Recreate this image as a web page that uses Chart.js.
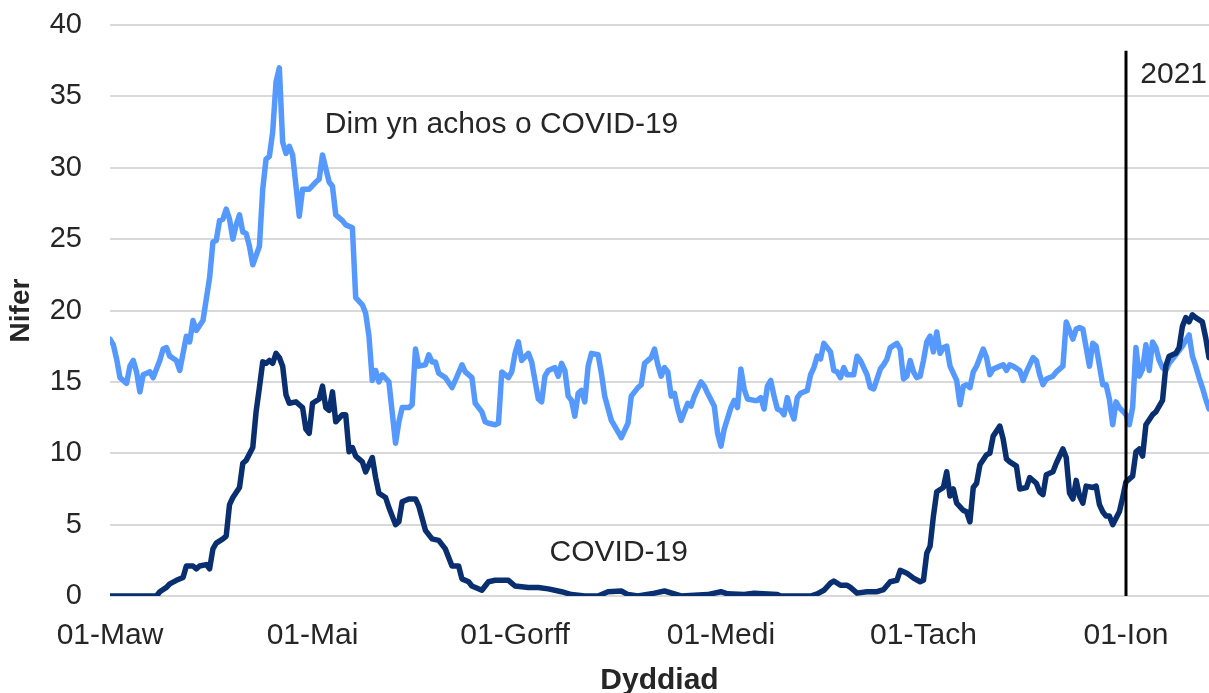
<!DOCTYPE html>
<html>
<head>
<meta charset="utf-8">
<script src="https://cdn.jsdelivr.net/npm/chart.js@4.4.1/dist/chart.umd.min.js"></script>
<style>
  html, body { margin: 0; padding: 0; background: #fff; }
  #wrap { width: 1209px; height: 693px; }
</style>
</head>
<body>
<div id="wrap"><canvas id="chart" width="1209" height="693"></canvas></div>
<script>
// [day since 01-Maw 2020, count]
const covidPoints = [
  [0, 0], [14, 0], [15, 0.3], [17, 0.6], [18, 0.85], [20, 1.1], [22, 1.3], [23, 2.1], [25, 2.1], [26, 1.9],
  [27, 2.1], [29, 2.2], [30, 1.9], [31, 3.3], [32, 3.7], [34, 4.0], [35, 4.2], [36, 6.4], [37, 6.9], [39, 7.6],
  [40, 9.3], [41, 9.5], [43, 10.4], [44, 12.9], [45, 14.6], [46, 16.4], [47, 16.3], [48, 16.5], [49, 16.3], [50, 17.0],
  [51, 16.7], [52, 16.1], [53, 14.1], [54, 13.5], [56, 13.6], [57, 13.4], [58, 13.2], [59, 11.7], [60, 11.4], [61, 13.5],
  [63, 13.8], [64, 14.7], [65, 13.2], [66, 13.0], [67, 14.3], [68, 12.2], [70, 12.7], [71, 12.7], [72, 10.1], [73, 10.4],
  [74, 9.8], [76, 9.4], [77, 8.7], [79, 9.7], [80, 8.3], [81, 7.2], [83, 6.9], [84, 6.2], [86, 5.0], [87, 5.2],
  [88, 6.6], [90, 6.8], [92, 6.8], [93, 6.3], [95, 4.6], [97, 4.0], [99, 3.9], [101, 3.3], [103, 2.1], [105, 2.1],
  [106, 1.2], [108, 1.0], [109, 0.7], [112, 0.4], [114, 1.0], [116, 1.1], [120, 1.1], [122, 0.7], [126, 0.6], [129, 0.6],
  [132, 0.5], [136, 0.3], [139, 0.1], [143, 0], [147, 0], [150, 0.3], [154, 0.35], [156, 0.1], [159, 0], [164, 0.2],
  [167, 0.35], [172, 0], [180, 0.1], [184, 0.3], [186, 0.15], [191, 0.1], [194, 0.2], [201, 0.1], [202, 0], [211, 0],
  [213, 0.15], [215, 0.4], [217, 0.9], [218, 1.05], [220, 0.75], [222, 0.75], [223, 0.6], [225, 0.2], [228, 0.3], [231, 0.3],
  [233, 0.45], [235, 1.0], [237, 1.1], [238, 1.8], [239, 1.7], [240, 1.6], [242, 1.25], [244, 1.0], [245, 1.1], [246, 3.0],
  [247, 3.5], [248, 5.6], [249, 7.3], [251, 7.6], [252, 8.7], [253, 7.0], [254, 7.5], [255, 6.5], [257, 6.0], [258, 5.9],
  [259, 5.2], [260, 7.6], [261, 7.9], [262, 9.2], [264, 9.9], [265, 10.0], [266, 11.2], [268, 11.9], [269, 11.0], [270, 9.6],
  [271, 9.4], [273, 9.1], [274, 7.5], [276, 7.6], [277, 8.3], [279, 7.9], [280, 7.3], [281, 7.1], [282, 8.5], [284, 8.7],
  [285, 9.3], [287, 10.3], [288, 9.7], [289, 7.2], [290, 6.8], [291, 8.1], [292, 7.0], [293, 6.5], [294, 7.7], [296, 7.6],
  [297, 7.7], [298, 6.4], [299, 5.9], [300, 5.6], [301, 5.6], [302, 5.0], [304, 5.9], [305, 6.9], [306, 8.0], [308, 8.4],
  [309, 10.1], [310, 10.3], [311, 9.8], [312, 12.0], [314, 12.7], [315, 12.9], [317, 13.7], [318, 16.1], [319, 16.8], [321, 17.0],
  [322, 17.4], [323, 18.9], [324, 19.5], [325, 19.2], [326, 19.7], [327, 19.5], [329, 19.2], [330, 18.1], [331, 16.7],
]

const notCovidPoints = [
  [0, 18.0], [1, 17.6], [2, 16.6], [3, 15.3], [5, 14.9], [6, 16.1], [7, 16.5], [8, 15.7], [9, 14.3], [10, 15.5],
  [12, 15.7], [13, 15.3], [15, 16.5], [16, 17.3], [17, 17.4], [18, 16.8], [20, 16.5], [21, 15.8], [23, 18.2], [24, 17.8],
  [25, 19.3], [26, 18.6], [28, 19.3], [30, 22.3], [31, 24.8], [32, 24.9], [33, 26.3], [34, 26.4], [35, 27.1], [36, 26.4],
  [37, 25.0], [38, 26.0], [39, 26.7], [40, 25.5], [41, 25.4], [42, 24.5], [43, 23.2], [45, 24.5], [46, 28.5], [47, 30.6],
  [48, 30.8], [49, 32.5], [50, 36.0], [51, 37.0], [52, 31.8], [53, 31.0], [54, 31.5], [55, 30.9], [57, 26.6], [58, 28.5],
  [60, 28.5], [62, 29.0], [63, 29.2], [64, 30.9], [66, 29.0], [67, 28.7], [68, 26.7], [70, 26.3], [71, 26.0], [73, 25.8],
  [74, 20.9], [76, 20.4], [77, 19.8], [78, 18.2], [79, 15.1], [80, 15.8], [81, 15.0], [82, 15.5], [84, 15.0], [86, 10.7],
  [87, 12.2], [88, 13.2], [90, 13.2], [91, 13.4], [92, 17.3], [93, 16.1], [95, 16.2], [96, 16.9], [97, 16.4], [98, 16.4],
  [99, 15.6], [101, 15.3], [103, 14.6], [104, 15.1], [106, 16.2], [107, 15.7], [109, 15.3], [110, 13.5], [112, 12.9], [113, 12.2],
  [114, 12.1], [116, 12.0], [117, 12.1], [118, 15.7], [120, 15.3], [121, 15.7], [122, 17.0], [123, 17.8], [124, 16.5], [126, 17.0],
  [127, 16.4], [128, 15.1], [129, 13.8], [130, 13.6], [131, 15.4], [132, 15.8], [134, 16.0], [135, 15.4], [136, 16.3], [137, 15.8],
  [138, 14.0], [139, 13.7], [140, 12.6], [141, 14.2], [142, 14.4], [143, 13.6], [144, 16.1], [145, 17.0], [147, 16.9], [148, 15.6],
  [149, 14.0], [151, 12.3], [153, 11.5], [154, 11.1], [156, 12.1], [157, 14.0], [159, 14.6], [160, 14.8], [161, 16.3], [163, 16.7],
  [164, 17.3], [165, 16.2], [166, 15.4], [167, 16.0], [168, 15.7], [169, 14.0], [170, 14.2], [171, 13.1], [172, 12.3], [174, 13.5],
  [175, 13.3], [176, 14.0], [178, 15.0], [179, 14.7], [180, 14.2], [182, 13.3], [183, 11.4], [184, 10.5], [185, 11.7], [187, 13.2],
  [188, 13.7], [189, 13.2], [190, 15.9], [191, 14.5], [192, 13.8], [194, 13.7], [195, 13.7], [196, 13.9], [197, 13.1], [198, 14.7],
  [199, 15.1], [200, 14.0], [201, 13.1], [202, 13.0], [203, 12.7], [204, 13.9], [205, 13.0], [206, 12.4], [207, 13.9], [208, 14.2],
  [210, 14.4], [211, 15.5], [212, 16.0], [213, 16.8], [214, 16.6], [215, 17.7], [217, 17.1], [218, 15.8], [219, 15.7], [220, 15.3],
  [221, 16.0], [222, 15.5], [224, 15.5], [225, 16.8], [226, 16.5], [228, 15.5], [229, 14.6], [230, 14.5], [232, 15.9], [233, 16.2],
  [234, 16.6], [235, 17.4], [237, 17.7], [238, 17.3], [239, 15.2], [240, 15.4], [241, 16.5], [242, 15.7], [243, 15.3], [244, 15.4],
  [245, 16.5], [246, 17.8], [247, 18.2], [248, 17.1], [249, 18.5], [250, 17.0], [251, 17.4], [252, 17.5], [253, 16.1], [255, 15.1],
  [256, 13.4], [257, 14.7], [258, 14.8], [259, 14.6], [260, 15.7], [261, 16.1], [263, 17.3], [264, 16.7], [265, 15.5], [266, 15.9],
  [267, 16.0], [269, 16.2], [270, 15.8], [271, 16.2], [272, 16.1], [274, 15.8], [275, 15.1], [276, 15.7], [278, 16.7], [279, 16.5],
  [280, 15.5], [281, 14.8], [282, 15.2], [284, 15.4], [285, 15.7], [287, 16.1], [288, 19.2], [289, 18.6], [290, 18.0], [291, 18.7],
  [292, 18.8], [293, 18.7], [295, 16.1], [296, 17.7], [297, 17.5], [299, 14.8], [300, 14.8], [301, 13.8], [302, 12.0], [303, 13.6],
  [304, 13.2], [306, 12.7], [307, 12.0], [308, 13.2], [309, 17.4], [310, 15.4], [311, 15.9], [312, 17.6], [313, 15.8], [314, 17.8],
  [315, 17.4], [316, 16.5], [317, 16.0], [318, 15.8], [319, 16.3], [320, 16.6], [322, 17.2], [323, 17.5], [325, 18.3], [326, 16.8],
  [327, 16.1], [328, 15.3], [329, 14.6], [330, 13.8], [331, 13.1],
]

const tickDays = [0, 61, 122, 184, 245, 306]
const tickLabels = ["01-Maw", "01-Mai", "01-Gorff", "01-Medi", "01-Tach", "01-Ion"]
const lastDay = 331
const yearStartDay = 306

const FONT = "'Liberation Sans', Arial, sans-serif"
const TEXT = "#262626"

function toXY(points) {
  return points.map(([day, value]) => ({ x: day, y: value }))
}

// Vertical year marker and the in-chart labels
const annotations = {
  id: "annotations",
  afterDatasetsDraw(chart, args, opts) {
    const { ctx } = chart
    const x = chart.scales.x
    const y = chart.scales.y
    ctx.save()

    const lx = x.getPixelForValue(opts.line.day)
    ctx.strokeStyle = "#000000"
    ctx.lineWidth = 3
    ctx.beginPath()
    ctx.moveTo(lx, y.getPixelForValue(0))
    ctx.lineTo(lx, y.getPixelForValue(opts.line.top))
    ctx.stroke()

    ctx.fillStyle = TEXT
    ctx.font = "30px " + FONT
    ctx.textAlign = "left"
    ctx.textBaseline = "middle"
    opts.labels.forEach((l) => {
      ctx.fillText(l.text, x.getPixelForValue(l.day), y.getPixelForValue(l.value))
    })
    ctx.restore()
  },
}

new Chart(document.getElementById("chart"), {
  type: "line",
  data: {
    datasets: [
      {
        label: "COVID-19",
        data: toXY(covidPoints),
        borderColor: "#0a2f70",
        borderWidth: 5.5,
        borderJoinStyle: "round",
        borderCapStyle: "round",
        pointRadius: 0,
        tension: 0,
      },
      {
        label: "Dim yn achos o COVID-19",
        data: toXY(notCovidPoints),
        borderColor: "#5599ff",
        borderWidth: 5.5,
        borderJoinStyle: "round",
        borderCapStyle: "round",
        pointRadius: 0,
        tension: 0,
      },
    ],
  },
  options: {
    responsive: false,
    animation: false,
    layout: { padding: { top: 25, right: 0, left: 0, bottom: 0 } },
    plugins: {
      legend: { display: false },
      tooltip: { enabled: false },
      annotations: {
        line: { day: yearStartDay, top: 38.2 },
        labels: [
          { text: "Dim yn achos o COVID-19", day: 64.7, value: 33.0 },
          { text: "COVID-19", day: 132.4, value: 3.0 },
          { text: "2021", day: 310.3, value: 36.5 },
        ],
      },
    },
    scales: {
      x: {
        type: "linear",
        min: 0,
        max: lastDay,
        afterBuildTicks: (scale) => {
          scale.ticks = tickDays.map((d) => ({ value: d }))
        },
        afterFit: (scale) => {
          scale.height = 97
        },
        ticks: {
          callback: (value) => tickLabels[tickDays.indexOf(value)],
          autoSkip: false,
          maxRotation: 0,
          padding: 14,
          color: TEXT,
          font: { family: FONT, size: 30 },
        },
        grid: { display: false },
        border: { display: false },
        title: {
          display: true,
          text: "Dyddiad",
          color: TEXT,
          font: { family: FONT, size: 30, weight: "bold" },
          padding: { top: -6, bottom: -6 },
        },
      },
      y: {
        min: 0,
        max: 40,
        afterFit: (scale) => {
          scale.width = 110
        },
        ticks: {
          stepSize: 5,
          padding: 0,
          color: TEXT,
          font: { family: FONT, size: 29 },
        },
        // invisible tick marks keep the labels clear of the plot
        grid: { color: "#d9d9d9", lineWidth: 2, drawTicks: true, tickLength: 28, tickColor: "rgba(0,0,0,0)" },
        border: { display: false },
        title: {
          display: true,
          text: "Nifer",
          color: TEXT,
          font: { family: FONT, size: 28, weight: "bold" },
        },
      },
    },
  },
  plugins: [annotations],
})
</script>
</body>
</html>
